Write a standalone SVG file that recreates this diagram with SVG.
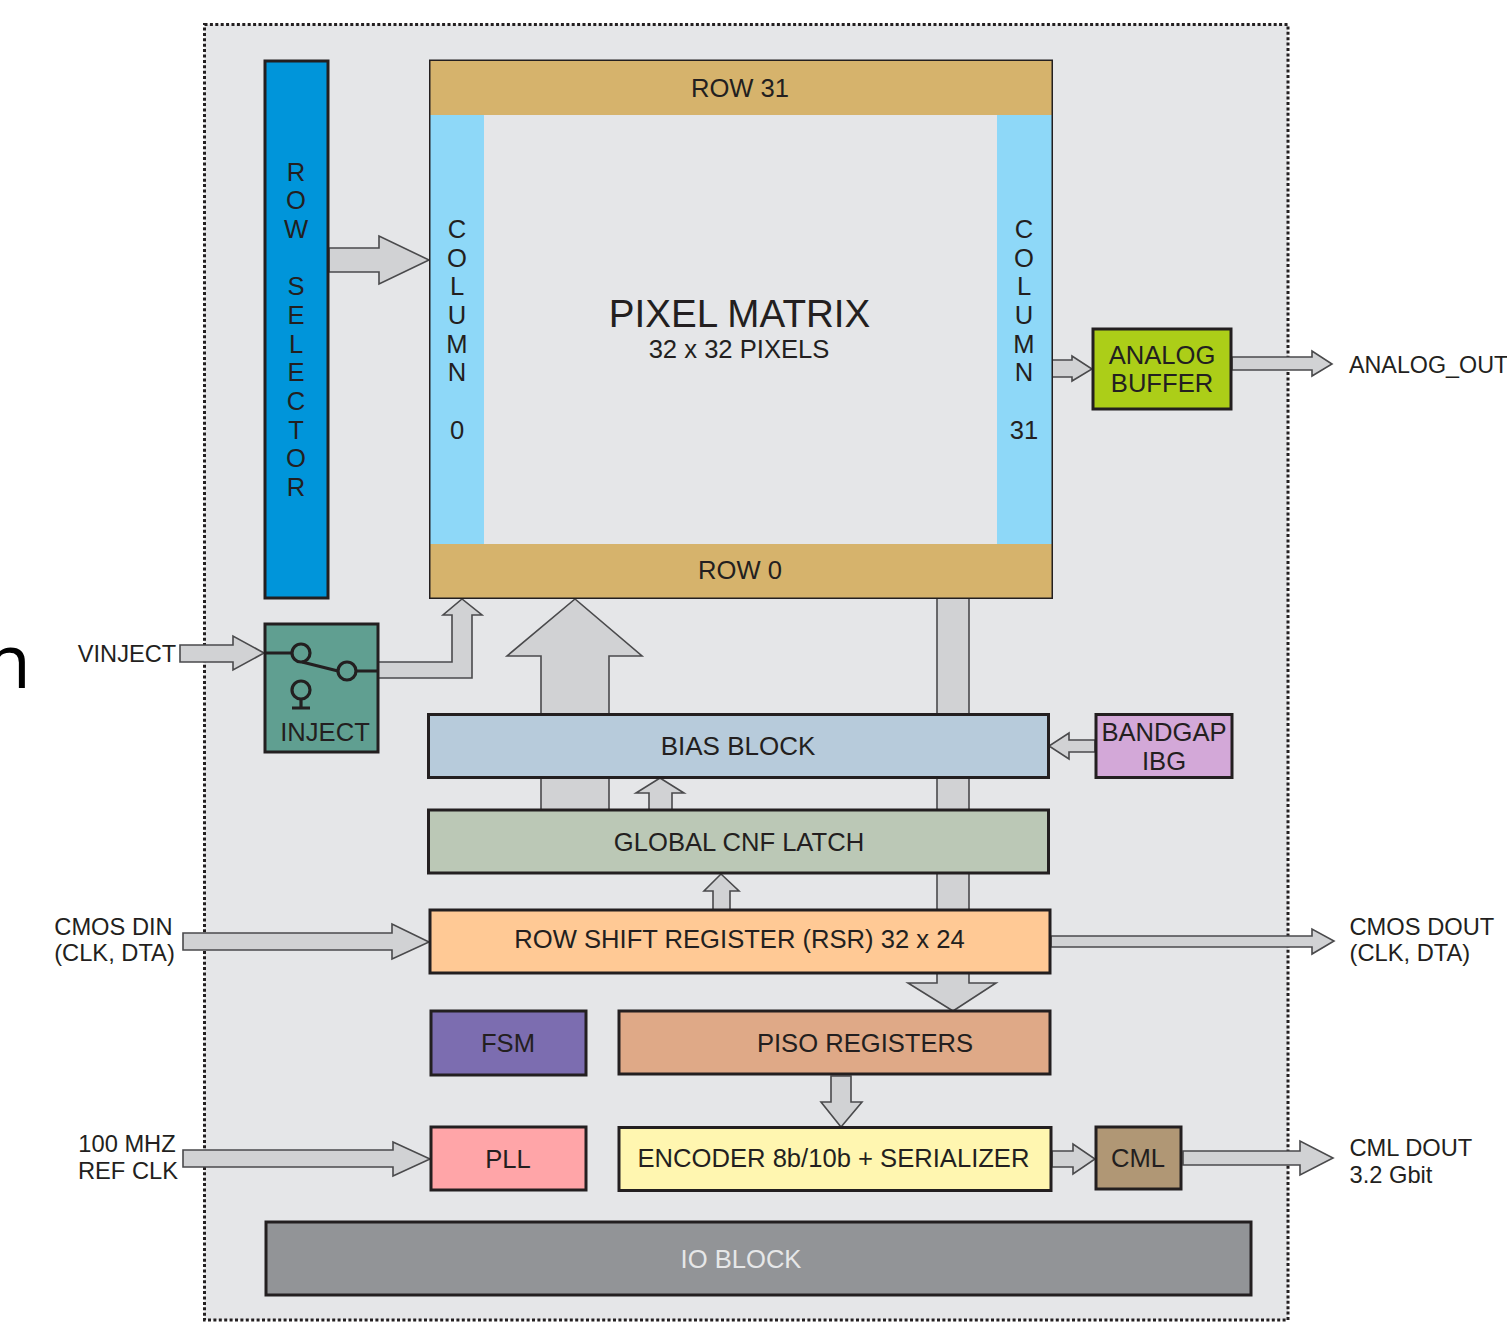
<svg xmlns="http://www.w3.org/2000/svg" width="1507" height="1329" viewBox="0 0 1507 1329">
<style>
text{font-family:"Liberation Sans",Arial,sans-serif;fill:#231f20;font-size:25.6px;text-anchor:middle}
.l{text-anchor:start}
.s{font-size:23.7px}
.b{stroke:#231f20;stroke-width:3}
.a{fill:#d1d2d4;stroke:#4a4a4c;stroke-width:1.6;stroke-linejoin:miter}
.w{fill:none;stroke:#231f20;stroke-width:3.2}
</style>
<rect width="1507" height="1329" fill="#fff"/>
<rect id="chip" x="204.500" y="24.500" width="1083.500" height="1295.500" fill="#e5e6e8" stroke="#231f20" stroke-width="3" stroke-dasharray="3 2.400"/>
<text x="-15" y="688" class="l" style="font-family:'Open Sans',sans-serif;font-size:75px;fill:#000">n</text>
<g id="connectors">
<polygon class="a" points="180,645 233,645 233,636 264,653 233,670 233,662 180,662"/>
<polygon class="a" points="378,662 452,662 452,615 443,615 462,599 482,615 472,615 472,678 378,678"/>
<polygon class="a" points="329,248 379,248 379,236 429,260 379,284 379,272 329,272"/>
<polygon class="a" points="541,810 541,656 507,656 575,599 642,656 609,656 609,810"/>
<polygon class="a" points="937,598 969,598 969,983 996,983 953,1011 908,983 937,983"/>
<polygon class="a" points="649,810 649,793 636,793 660,778 684,793 672,793 672,810"/>
<polygon class="a" points="713,910 713,891 704,891 721,874 739,891 730,891 730,910"/>
<polygon class="a" points="1095,740 1069,740 1069,733 1049,746 1069,759 1069,752 1095,752"/>
<polygon class="a" points="1052,360 1072,360 1072,356 1092,369 1072,381 1072,377 1052,377"/>
<polygon class="a" points="1232,357 1312,357 1312,351 1332,364 1312,376 1312,370 1232,370"/>
<polygon class="a" points="183,933 392,933 392,924 429,942 392,959 392,950 183,950"/>
<polygon class="a" points="1051,936 1312,936 1312,929 1334,941 1312,954 1312,947 1051,947"/>
<polygon class="a" points="831,1076 851,1076 851,1102 862,1102 841,1127 821,1102 831,1102"/>
<polygon class="a" points="183,1150 393,1150 393,1142 430,1159 393,1176 393,1167 183,1167"/>
<polygon class="a" points="1052,1151 1073,1151 1073,1144 1095,1159 1073,1174 1073,1167 1052,1167"/>
<polygon class="a" points="1183,1151 1300,1151 1300,1141 1333,1158 1300,1175 1300,1165 1183,1165"/>
</g>
<g id="row-selector"><rect class="b" x="265" y="61" width="63" height="537" fill="#0095da"/>
<text x="296" y="180.500">R</text><text x="296" y="209">O</text><text x="296" y="238">W</text><text x="296" y="295">S</text><text x="296" y="324">E</text><text x="296" y="353">L</text><text x="296" y="381">E</text><text x="296" y="410">C</text><text x="296" y="439">T</text><text x="296" y="467">O</text><text x="296" y="496">R</text></g>
<g id="pixel-matrix">
<rect x="430" y="60.500" width="622" height="537.500" fill="#e5e6e8"/>
<rect x="430" y="115" width="54" height="429" fill="#8ed8f8"/>
<rect x="997" y="115" width="55" height="429" fill="#8ed8f8"/>
<rect x="430" y="60.500" width="622" height="54.500" fill="#d6b36c"/>
<rect x="430" y="544" width="622" height="54" fill="#d6b36c"/>
<rect x="429.750" y="60.250" width="622.500" height="538" fill="none" stroke="#231f20" stroke-width="1.500"/>
<text x="740" y="97">ROW 31</text>
<text x="740" y="579">ROW 0</text>
<text x="739.500" y="327" style="font-size:38.600px">PIXEL MATRIX</text>
<text x="739" y="358">32 x 32 PIXELS</text>
<text x="457" y="238">C</text><text x="457" y="266.500">O</text><text x="457" y="295">L</text><text x="457" y="324">U</text><text x="457" y="353">M</text><text x="457" y="381">N</text><text x="457" y="439">0</text>
<text x="1024" y="238">C</text><text x="1024" y="266.500">O</text><text x="1024" y="295">L</text><text x="1024" y="324">U</text><text x="1024" y="353">M</text><text x="1024" y="381">N</text><text x="1024" y="439">31</text>
</g>
<g id="inject"><rect class="b" x="265" y="624" width="113" height="128" fill="#609f91"/>
<path class="w" d="M265 653H292M302 662L338 671M357 671H378M301 700V708M292 708H310"/>
<circle class="w" cx="301" cy="653" r="9"/><circle class="w" cx="347" cy="671" r="9"/><circle class="w" cx="301" cy="690" r="9"/>
<text x="325" y="741">INJECT</text></g>
<text x="127" y="662" style="font-size:23.600px">VINJECT</text>
<g id="analog-buffer"><rect class="b" x="1093" y="329" width="138" height="80" fill="#acce18"/><text x="1162" y="364">ANALOG</text><text x="1162" y="392">BUFFER</text></g>
<text x="1349" y="373" class="l" style="font-size:23.300px">ANALOG_OUT</text>
<g id="bias"><rect class="b" x="428.500" y="714.500" width="620" height="63" fill="#b7cbdb"/><text x="738" y="755" style="font-size:26px">BIAS BLOCK</text></g>
<g id="bandgap"><rect class="b" x="1096" y="714.500" width="136" height="63" fill="#d3a8d8"/><text x="1164" y="741">BANDGAP</text><text x="1164" y="770">IBG</text></g>
<g id="latch"><rect class="b" x="428.500" y="810" width="620" height="63" fill="#bbc8b6"/><text x="739" y="851">GLOBAL CNF LATCH</text></g>
<g id="rsr"><rect class="b" x="430" y="910" width="620" height="63" fill="#ffc995"/><text x="739.500" y="948">ROW SHIFT REGISTER (RSR) 32 x 24</text></g>
<g id="fsm"><rect class="b" x="431" y="1011" width="155" height="64" fill="#7c6db0"/><text x="508" y="1052">FSM</text></g>
<g id="piso"><rect class="b" x="619" y="1011" width="431" height="63" fill="#dfa987"/><text x="865" y="1052">PISO REGISTERS</text></g>
<g id="pll"><rect class="b" x="431" y="1127" width="155" height="63" fill="#ffa5a8"/><text x="508" y="1168">PLL</text></g>
<g id="encoder"><rect class="b" x="619" y="1127.500" width="432" height="63" fill="#fff6b0"/><text x="833.500" y="1167">ENCODER 8b/10b + SERIALIZER</text></g>
<g id="cml"><rect class="b" x="1096" y="1127" width="85" height="62" fill="#b09775"/><text x="1138" y="1167">CML</text></g>
<g id="io"><rect class="b" x="266" y="1222" width="985" height="73" fill="#929497"/><text x="741" y="1268" style="fill:#e6e7e8">IO BLOCK</text></g>
<text x="113.500" y="935" class="s">CMOS DIN</text><text x="114.500" y="961" class="s">(CLK, DTA)</text>
<text x="127" y="1152" class="s">100 MHZ</text><text x="128" y="1179" class="s">REF CLK</text>
<text x="1349.500" y="935" class="l s">CMOS DOUT</text><text x="1349.500" y="961" class="l s">(CLK, DTA)</text>
<text x="1349.500" y="1156" class="l s">CML DOUT</text><text x="1349.500" y="1183" class="l s">3.2 Gbit</text>
</svg>
